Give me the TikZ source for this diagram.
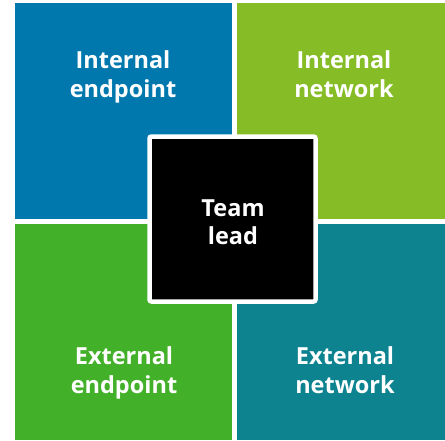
\documentclass[tikz,border=0pt]{standalone}
\usepackage{fontspec}
\setmainfont{Open Sans}
\usetikzlibrary{positioning}

\definecolor{quadBlue}{HTML}{0078AE}
\definecolor{quadLime}{HTML}{86BC25}
\definecolor{quadGreen}{HTML}{43B02A}
\definecolor{quadTeal}{HTML}{0D8390}

\begin{document}
\begin{tikzpicture}[x=1pt,y=-1pt,
    quad/.style={rectangle,anchor=north west,inner sep=0pt,
                 minimum width=#1,minimum height=216pt},
    quadlabel/.style={text=white,align=center,inner sep=0pt,text depth=0pt,
                      font=\fontsize{23.5}{28.5}\selectfont\bfseries},
    centrebox/.style={rectangle,fill=black,draw=white,line width=4.5pt,
                      rounded corners=2pt,minimum width=166pt,minimum height=165pt}]

  \useasboundingbox (0,0) rectangle (445,440);

  % the four quarters
  \node[quad=217pt,fill=quadBlue]  (tl) at (15,3)    {};
  \node[quad=208pt,fill=quadLime]  (tr) at (237,3)   {};
  \node[quad=217pt,fill=quadGreen] (bl) at (15,224)  {};
  \node[quad=208pt,fill=quadTeal]  (br) at (237,224) {};

  \node[quadlabel] (tlText) at (123,74)  {Internal\\endpoint};
  \node[quadlabel] (trText) at (344,74)  {Internal\\network};
  \node[quadlabel] (blText) at (124,370) {External\\endpoint};
  \node[quadlabel] (brText) at (345,370) {External\\network};

  % box in the middle
  \node[centrebox] (lead) at (232.5,219) {};
  \node[quadlabel] (leadText) at (233,222) {Team\\lead};

\end{tikzpicture}
\end{document}
